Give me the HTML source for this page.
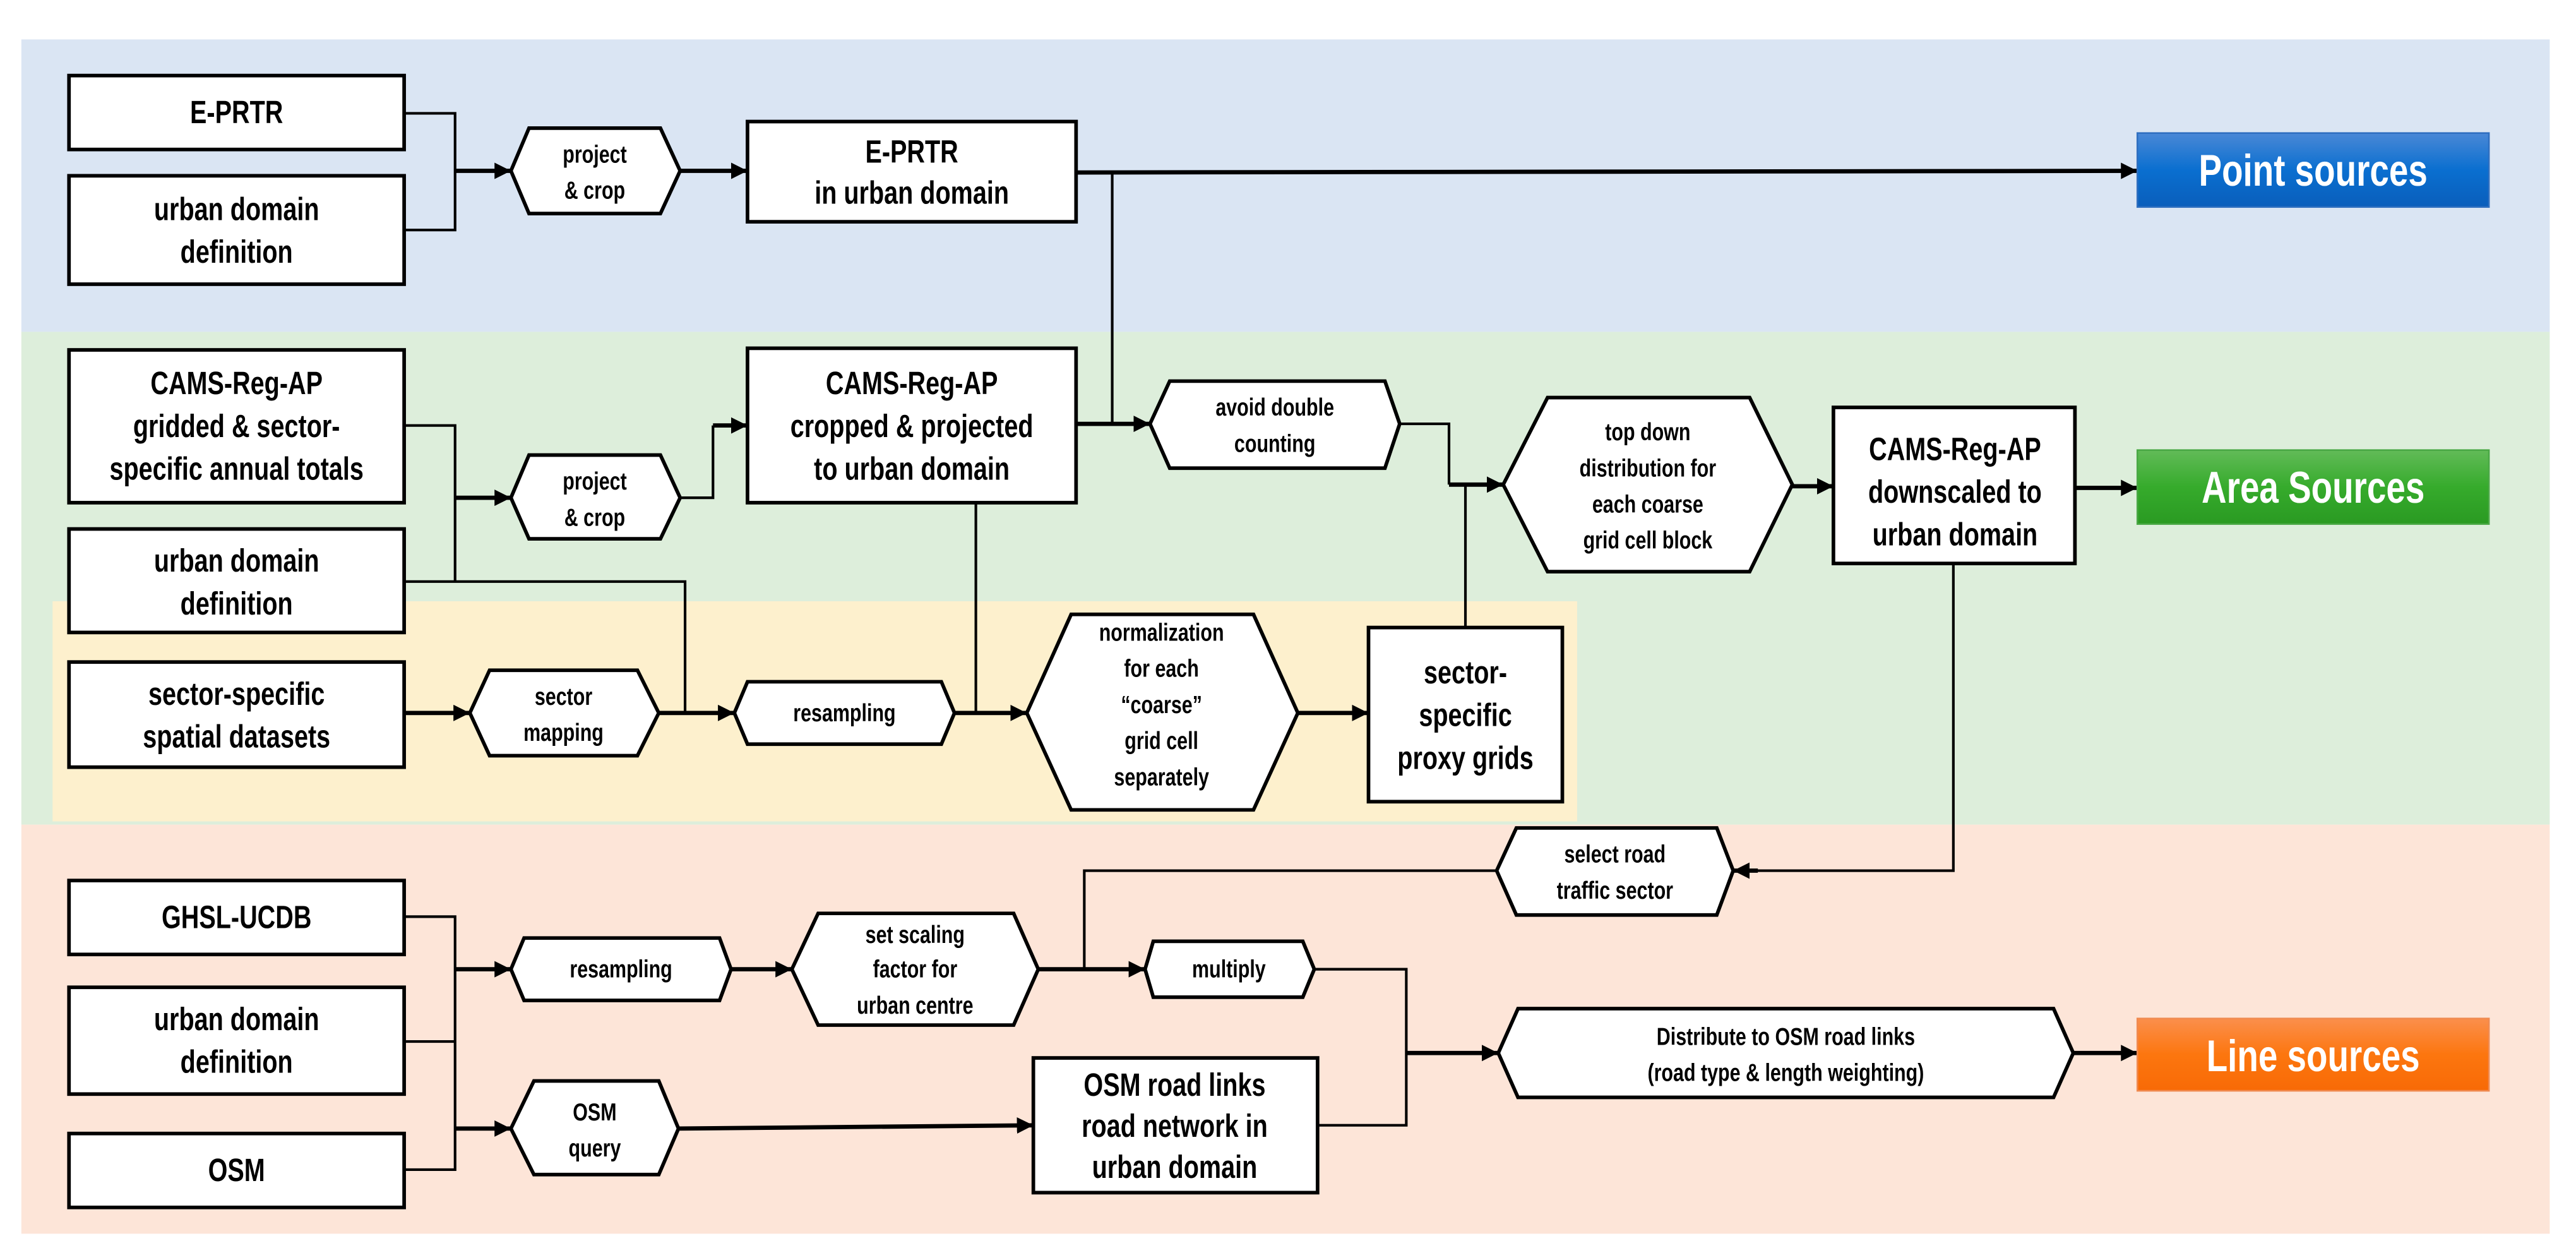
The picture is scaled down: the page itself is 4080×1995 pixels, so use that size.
<!DOCTYPE html>
<html><head><meta charset="utf-8"><style>
html,body{margin:0;padding:0;background:#fff;}
svg{display:block;}
text{font-family:"Liberation Sans Narrow","Liberation Sans",sans-serif;font-weight:bold;fill:#000;text-anchor:middle;transform-box:fill-box;transform-origin:center;transform:scaleX(0.78);}
.b{font-size:19.5px;}
.h{font-size:15px;}
.big{font-size:27px;fill:#fff;}
.box{fill:#fff;stroke:#000;stroke-width:2.2;}
.ln{fill:none;stroke:#000;stroke-width:1.6;}
.tk{fill:none;stroke:#000;stroke-width:2.6;}
</style></head><body>
<svg width="4080" height="1995" viewBox="0 0 1568 767" preserveAspectRatio="none" xmlns="http://www.w3.org/2000/svg">
<defs>
<marker id="a" viewBox="0 0 10 10" refX="10" refY="5" markerWidth="10" markerHeight="10" markerUnits="userSpaceOnUse" orient="auto"><path d="M0,0 L10,5 L0,10 Z" fill="#000"/></marker>
<linearGradient id="gb" x1="0" y1="0" x2="0" y2="1"><stop offset="0" stop-color="#4a88d6"/><stop offset="0.5" stop-color="#0a6fd0"/><stop offset="1" stop-color="#0a5ebb"/></linearGradient>
<linearGradient id="gg" x1="0" y1="0" x2="0" y2="1"><stop offset="0" stop-color="#62bb58"/><stop offset="0.5" stop-color="#36ab2c"/><stop offset="1" stop-color="#2a9a22"/></linearGradient>
<linearGradient id="go" x1="0" y1="0" x2="0" y2="1"><stop offset="0" stop-color="#fb8f4c"/><stop offset="0.5" stop-color="#fc760f"/><stop offset="1" stop-color="#f86a06"/></linearGradient>
</defs>
<rect x="13" y="24" width="1539" height="178" fill="#dae5f3"/>
<rect x="13" y="202" width="1539" height="300" fill="#ddeedb"/>
<rect x="32" y="366" width="928" height="134" fill="#fdf0cd"/>
<rect x="13" y="502" width="1539" height="249" fill="#fde5d8"/>

<polyline class="ln" points="246,69 277,69 277,140 246,140"/>
<line class="tk" x1="277" y1="104" x2="311" y2="104" marker-end="url(#a)"/>
<line class="tk" x1="414" y1="104" x2="455" y2="104" marker-end="url(#a)"/>
<line class="tk" x1="655" y1="105" x2="1301" y2="104" marker-end="url(#a)"/>
<polyline class="ln" points="677,105 677,258"/>
<polyline class="ln" points="246,259 277,259 277,354"/>
<line class="tk" x1="277" y1="303" x2="311" y2="303" marker-end="url(#a)"/>
<polyline class="ln" points="414,303 434,303 434,259"/>
<line class="tk" x1="434" y1="259" x2="455" y2="259" marker-end="url(#a)"/>
<line class="tk" x1="655" y1="258" x2="700" y2="258" marker-end="url(#a)"/>
<polyline class="ln" points="246,354 417,354 417,434"/>
<polyline class="ln" points="852,258 882,258 882,295"/>
<line class="tk" x1="882" y1="295" x2="915" y2="295" marker-end="url(#a)"/>
<polyline class="ln" points="892,295 892,382"/>
<line class="tk" x1="1091" y1="296" x2="1116" y2="296" marker-end="url(#a)"/>
<line class="tk" x1="1263" y1="297" x2="1301" y2="297" marker-end="url(#a)"/>
<polyline class="ln" points="1189,343 1189,530 1066,530"/>
<line class="tk" x1="1070" y1="530" x2="1055" y2="530" marker-end="url(#a)"/>
<line class="tk" x1="246" y1="434" x2="286" y2="434" marker-end="url(#a)"/>
<line class="tk" x1="401" y1="434" x2="447" y2="434" marker-end="url(#a)"/>
<polyline class="ln" points="594,306 594,434"/>
<line class="tk" x1="581" y1="434" x2="625" y2="434" marker-end="url(#a)"/>
<line class="tk" x1="790" y1="434" x2="833" y2="434" marker-end="url(#a)"/>
<polyline class="ln" points="246,558 277,558 277,712 246,712"/>
<line class="ln" x1="246" y1="634" x2="277" y2="634"/>
<line class="tk" x1="277" y1="590" x2="311" y2="590" marker-end="url(#a)"/>
<line class="tk" x1="277" y1="687" x2="311" y2="687" marker-end="url(#a)"/>
<line class="tk" x1="445" y1="590" x2="482" y2="590" marker-end="url(#a)"/>
<line class="tk" x1="632" y1="590" x2="697" y2="590" marker-end="url(#a)"/>
<polyline class="ln" points="911,530 660,530 660,590"/>
<polyline class="ln" points="800,590 856,590 856,685 802,685"/>
<line class="tk" x1="856" y1="641" x2="912" y2="641" marker-end="url(#a)"/>
<line class="tk" x1="413" y1="687" x2="629" y2="685" marker-end="url(#a)"/>
<line class="tk" x1="1262" y1="641" x2="1301" y2="641" marker-end="url(#a)"/>

<rect class="box" x="42" y="46" width="204" height="45"/>
<text class="b" x="144" y="75">E-PRTR</text>
<rect class="box" x="42" y="107" width="204" height="66"/>
<text class="b" x="144" y="134">urban domain</text><text class="b" x="144" y="160">definition</text>
<polygon class="box" points="311,104 322,78 402,78 414,104 402,130 322,130"/>
<text class="h" x="362" y="99">project</text><text class="h" x="362" y="121">&amp; crop</text>
<rect class="box" x="455" y="74" width="200" height="61"/>
<text class="b" x="555" y="99">E-PRTR</text><text class="b" x="555" y="124">in urban domain</text>
<rect x="1301" y="81" width="214" height="45" fill="url(#gb)" stroke="#2f6fc0" stroke-width="1"/>
<text class="big" x="1408" y="113">Point sources</text>

<rect class="box" x="42" y="213" width="204" height="93"/>
<text class="b" x="144" y="240">CAMS-Reg-AP</text><text class="b" x="144" y="266">gridded &amp; sector-</text><text class="b" x="144" y="292">specific annual totals</text>
<rect class="box" x="42" y="322" width="204" height="63"/>
<text class="b" x="144" y="348">urban domain</text><text class="b" x="144" y="374">definition</text>
<polygon class="box" points="311,303 322,277 402,277 414,303 402,328 322,328"/>
<text class="h" x="362" y="298">project</text><text class="h" x="362" y="320">&amp; crop</text>
<rect class="box" x="455" y="212" width="200" height="94"/>
<text class="b" x="555" y="240">CAMS-Reg-AP</text><text class="b" x="555" y="266">cropped &amp; projected</text><text class="b" x="555" y="292">to urban domain</text>
<polygon class="box" points="700,258 712,232 843,232 852,258 843,285 712,285"/>
<text class="h" x="776" y="253">avoid double</text><text class="h" x="776" y="275">counting</text>
<polygon class="box" points="915,295 942,242 1065,242 1091,295 1065,348 942,348"/>
<text class="h" x="1003" y="268">top down</text><text class="h" x="1003" y="290">distribution for</text><text class="h" x="1003" y="312">each coarse</text><text class="h" x="1003" y="334">grid cell block</text>
<rect class="box" x="1116" y="248" width="147" height="95"/>
<text class="b" x="1190" y="280">CAMS-Reg-AP</text><text class="b" x="1190" y="306">downscaled to</text><text class="b" x="1190" y="332">urban domain</text>
<rect x="1301" y="274" width="214" height="45" fill="url(#gg)" stroke="#4aa845" stroke-width="1"/>
<text class="big" x="1408" y="306">Area Sources</text>

<rect class="box" x="42" y="403" width="204" height="64"/>
<text class="b" x="144" y="429">sector-specific</text><text class="b" x="144" y="455">spatial datasets</text>
<polygon class="box" points="286,434 298,408 388,408 401,434 388,460 298,460"/>
<text class="h" x="343" y="429">sector</text><text class="h" x="343" y="451">mapping</text>
<polygon class="box" points="447,434 455,415 573,415 581,434 573,453 455,453"/>
<text class="h" x="514" y="439">resampling</text>
<polygon class="box" points="625,434 652,374 763,374 790,434 763,493 652,493"/>
<text class="h" x="707" y="390">normalization</text><text class="h" x="707" y="412">for each</text><text class="h" x="707" y="434">“coarse”</text><text class="h" x="707" y="456">grid cell</text><text class="h" x="707" y="478">separately</text>
<rect class="box" x="833" y="382" width="118" height="106"/>
<text class="b" x="892" y="416">sector-</text><text class="b" x="892" y="442">specific</text><text class="b" x="892" y="468">proxy grids</text>

<polygon class="box" points="911,530 923,504 1045,504 1055,530 1045,557 923,557"/>
<text class="h" x="983" y="525">select road</text><text class="h" x="983" y="547">traffic sector</text>
<rect class="box" x="42" y="536" width="204" height="45"/>
<text class="b" x="144" y="565">GHSL-UCDB</text>
<rect class="box" x="42" y="601" width="204" height="65"/>
<text class="b" x="144" y="627">urban domain</text><text class="b" x="144" y="653">definition</text>
<rect class="box" x="42" y="690" width="204" height="45"/>
<text class="b" x="144" y="719">OSM</text>
<polygon class="box" points="311,590 319,571 438,571 445,590 438,609 319,609"/>
<text class="h" x="378" y="595">resampling</text>
<polygon class="box" points="482,590 498,556 617,556 632,590 617,624 498,624"/>
<text class="h" x="557" y="574">set scaling</text><text class="h" x="557" y="595">factor for</text><text class="h" x="557" y="617">urban centre</text>
<polygon class="box" points="697,590 702,573 793,573 800,590 793,607 702,607"/>
<text class="h" x="748" y="595">multiply</text>
<polygon class="box" points="311,687 325,658 401,658 413,687 401,715 325,715"/>
<text class="h" x="362" y="682">OSM</text><text class="h" x="362" y="704">query</text>
<rect class="box" x="629" y="644" width="173" height="82"/>
<text class="b" x="715" y="667">OSM road links</text><text class="b" x="715" y="692">road network in</text><text class="b" x="715" y="717">urban domain</text>
<polygon class="box" points="912,641 924,614 1250,614 1262,641 1250,668 924,668"/>
<text class="h" x="1087" y="636">Distribute to OSM road links</text><text class="h" x="1087" y="658">(road type &amp; length weighting)</text>
<rect x="1301" y="620" width="214" height="44" fill="url(#go)" stroke="#f08a50" stroke-width="1"/>
<text class="big" x="1408" y="652">Line sources</text>
</svg>
</body></html>
